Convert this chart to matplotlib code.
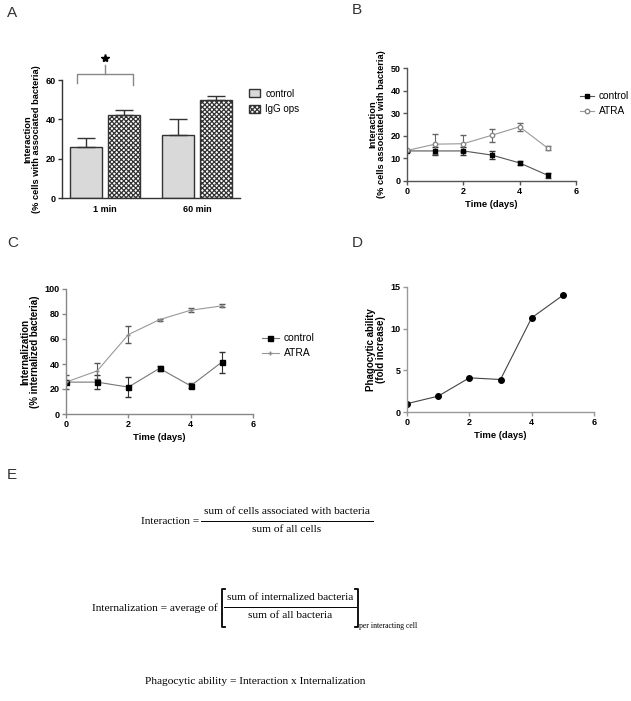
import numpy as np
import matplotlib
matplotlib.use('Agg')
import matplotlib.pyplot as plt
from matplotlib.lines import Line2D

plt.rcParams['font.family'] = ['Liberation Sans', 'DejaVu Sans']
plt.rcParams['hatch.linewidth'] = 0.9

W, H = 631, 701

# Panel A data
groups_a = ['1 min', '60 min']
control_a = [26, 32]
control_a_err = [4.7, 8]
igg_a = [42, 50]
igg_a_err = [3, 2]

# Panel B data
days = [0, 1, 2, 3, 4, 5]
control_b = [13.3, 13.3, 13.3, 11.5, 8.0, 2.5]
control_b_err = [0.6, 1.6, 1.8, 1.8, 1.0, 1.0]
atra_b = [13.5, 16.3, 16.5, 20.2, 24.0, 14.5]
atra_b_err = [0.4, 4.5, 3.7, 2.8, 1.8, 1.0]

# Panel C data
control_c = [25.5, 25.5, 21.5, 36.5, 22.5, 41.5]
control_c_err = [1.0, 5.5, 7.8, 2.0, 2.0, 8.3]
atra_c = [25.5, 34.5, 63.5, 75.5, 83.0, 86.5]
atra_c_err = [5.5, 6.5, 7.0, 0.8, 1.8, 1.2]

# Panel D data
phago_d = [1.0, 1.9, 4.1, 3.9, 11.3, 14.0]


def px_axes(fig, x0, x1, y0, y1):
    return fig.add_axes([x0 / W, 1 - y1 / H, (x1 - x0) / W, (y1 - y0) / H])


def style_axes(ax, color):
    for s in ['top', 'right']:
        ax.spines[s].set_visible(False)
    for s in ['left', 'bottom']:
        ax.spines[s].set_color(color)
        ax.spines[s].set_linewidth(1.0)
    ax.tick_params(colors=color, length=3, width=1.0, labelsize=6.5, pad=1.5)
    for lbl in ax.get_xticklabels() + ax.get_yticklabels():
        lbl.set_fontweight('bold')
        lbl.set_color('black')


fig = plt.figure(figsize=(W / 100, H / 100), dpi=100)

# ---------------- A ----------------
ax = px_axes(fig, 62, 240, 80, 198)
x = np.array([1.0, 2.0])
off = 0.207
bw = 0.348
b1 = ax.bar(x - off, control_a, bw, color='#d9d9d9', edgecolor='#333333', linewidth=1.0,
            label='control')
b2 = ax.bar(x + off, igg_a, bw, color='white', edgecolor='#333333', linewidth=1.0,
            hatch='xxxxxxx', label='IgG ops')
ax.errorbar(x - off, control_a, yerr=[np.zeros(2), control_a_err], fmt='none',
            ecolor='#333333', elinewidth=1.0, capsize=6.5, capthick=1.0)
ax.errorbar(x + off, igg_a, yerr=[np.zeros(2), igg_a_err], fmt='none',
            ecolor='#333333', elinewidth=1.0, capsize=6.5, capthick=1.0)
ax.set_xlim(0.533, 2.467)
ax.set_ylim(0, 60)
ax.set_yticks([0, 20, 40, 60])
ax.set_xticks(x)
ax.set_xticklabels(groups_a)
style_axes(ax, '#333333')
ax.tick_params(axis='x', length=0, pad=5)
ax.set_ylabel('Interaction\n(% cells with associated bacteria)', fontsize=6.7,
              fontweight='bold', labelpad=3, linespacing=1.05)
# significance bracket
bx0, bx1 = x[0] - off - 0.1, x[0] + off + 0.1
ax.plot([bx0, bx0, bx1, bx1], [58.3, 63.2, 63.2, 57.6], color='#888888', lw=1.0, clip_on=False)
ax.plot([x[0], x[0]], [63.2, 67.5], color='#888888', lw=1.0, clip_on=False)
ax.plot([x[0]], [71.2], marker='*', color='black', markersize=6, clip_on=False)
ax.legend(handles=[b1, b2], loc='upper left', bbox_to_anchor=(1.0, 1.0),
          frameon=False, fontsize=7.0, handlelength=1.2, handleheight=0.9,
          handletextpad=0.5, labelspacing=0.55)

# ---------------- B ----------------
ax = px_axes(fig, 407, 576, 68, 181)
ax.errorbar(days, control_b, yerr=control_b_err, color='#555555', lw=0.8,
            marker='s', markersize=3.2, mfc='black', mec='black',
            ecolor='#333333', elinewidth=0.8, capsize=2.2)
ax.errorbar(days, atra_b, yerr=atra_b_err, color='#999999', lw=0.8,
            marker='o', markersize=3.2, mfc='white', mec='#888888',
            ecolor='#666666', elinewidth=0.8, capsize=2.2)
ax.set_xlim(0, 6)
ax.set_ylim(0, 50)
ax.set_xticks([0, 2, 4, 6])
ax.set_yticks([0, 10, 20, 30, 40, 50])
style_axes(ax, '#555555')
ax.set_xlabel('Time (days)', fontsize=6.8, fontweight='bold', labelpad=3)
ax.set_ylabel('Interaction\n(% cells associated with bacteria)', fontsize=6.7,
              fontweight='bold', labelpad=3, linespacing=1.05)
hb = [Line2D([], [], color='#555555', lw=0.8, marker='s', markersize=3.2,
             mfc='black', mec='black'),
      Line2D([], [], color='#999999', lw=0.8, marker='o', markersize=3.2,
             mfc='white', mec='#888888')]
ax.legend(hb, ['control', 'ATRA'], loc='upper left', bbox_to_anchor=(1.0, 0.83),
          frameon=False, fontsize=7.3, handlelength=1.4, handletextpad=0.45,
          labelspacing=0.5, borderpad=0.2, borderaxespad=0.2)

# ---------------- C ----------------
ax = px_axes(fig, 66, 253, 289, 414)
ax.errorbar(days, control_c, yerr=control_c_err, color='#777777', lw=0.8,
            marker='s', markersize=3.6, mfc='black', mec='black',
            ecolor='#333333', elinewidth=0.8, capsize=2.2)
ax.errorbar(days, atra_c, yerr=atra_c_err, color='#999999', lw=0.8,
            marker='+', markersize=3, mec='#888888',
            ecolor='#555555', elinewidth=0.8, capsize=2.2)
ax.set_xlim(0, 6)
ax.set_ylim(0, 100)
ax.set_xticks([0, 2, 4, 6])
ax.set_yticks([0, 20, 40, 60, 80, 100])
style_axes(ax, '#888888')
ax.set_xlabel('Time (days)', fontsize=6.8, fontweight='bold', labelpad=3)
ax.set_ylabel('Internalization\n(% internalized bacteria)', fontsize=7.0,
              fontweight='bold', labelpad=3, linespacing=1.05)
hc = [Line2D([], [], color='#777777', lw=0.8, marker='s', markersize=3.6,
             mfc='black', mec='black'),
      Line2D([], [], color='#999999', lw=0.8, marker='+', markersize=3, mec='#888888')]
ax.legend(hc, ['control', 'ATRA'], loc='upper left', bbox_to_anchor=(1.0, 0.72),
          frameon=False, fontsize=7.4, handlelength=1.6, handletextpad=0.5,
          labelspacing=0.5)

# ---------------- D ----------------
ax = px_axes(fig, 407, 594, 287, 412)
ax.plot(days, phago_d, color='#444444', lw=0.8, marker='o', markersize=4,
        mfc='black', mec='black')
ax.set_xlim(0, 6)
ax.set_ylim(0, 15)
ax.set_xticks([0, 2, 4, 6])
ax.set_yticks([0, 5, 10, 15])
style_axes(ax, '#999999')
ax.set_xlabel('Time (days)', fontsize=6.8, fontweight='bold', labelpad=3)
ax.set_ylabel('Phagocytic ability\n(fold increase)', fontsize=7.0,
              fontweight='bold', labelpad=3, linespacing=1.05)

# ---------------- panel letters ----------------
for letter, (px, py) in zip('ABCDE', [(7, 13), (352, 10), (7, 243), (352, 243), (7, 475)]):
    fig.text(px / W, 1 - py / H, letter, fontsize=11, va='center', ha='left',
             color='#333333')

# ---------------- E: formulas ----------------
serif = ['Liberation Serif', 'DejaVu Serif']
fs = 8.2


def ftext(px, py, s, ha='left', size=fs):
    fig.text(px / W, 1 - py / H, s, family=serif, fontsize=size, ha=ha, va='center')


ftext(199, 521, 'Interaction =', ha='right')
ftext(287, 511, 'sum of cells associated with bacteria', ha='center')
ftext(287, 530, 'sum of all cells', ha='center')
fig.add_artist(Line2D([201 / W, 373 / W], [1 - 520.5 / H] * 2, color='black', lw=0.7))

ftext(218, 608, 'Internalization = average of', ha='right')
ftext(290, 597, 'sum of internalized bacteria', ha='center')
ftext(290, 616, 'sum of all bacteria', ha='center')
fig.add_artist(Line2D([224 / W, 356 / W], [1 - 606.5 / H] * 2, color='black', lw=0.7))
# brackets
yb0, yb1 = 1 - 589 / H, 1 - 627 / H
fig.add_artist(Line2D([225 / W, 222 / W, 222 / W, 225 / W], [yb0, yb0, yb1, yb1],
                      color='black', lw=1.3))
fig.add_artist(Line2D([355 / W, 358 / W, 358 / W, 355 / W], [yb0, yb0, yb1, yb1],
                      color='black', lw=1.3))
ftext(359, 626, 'per interacting cell', size=5.6)

ftext(255, 681, 'Phagocytic ability = Interaction x Internalization', ha='center')

fig.savefig('out.png', dpi=100)
